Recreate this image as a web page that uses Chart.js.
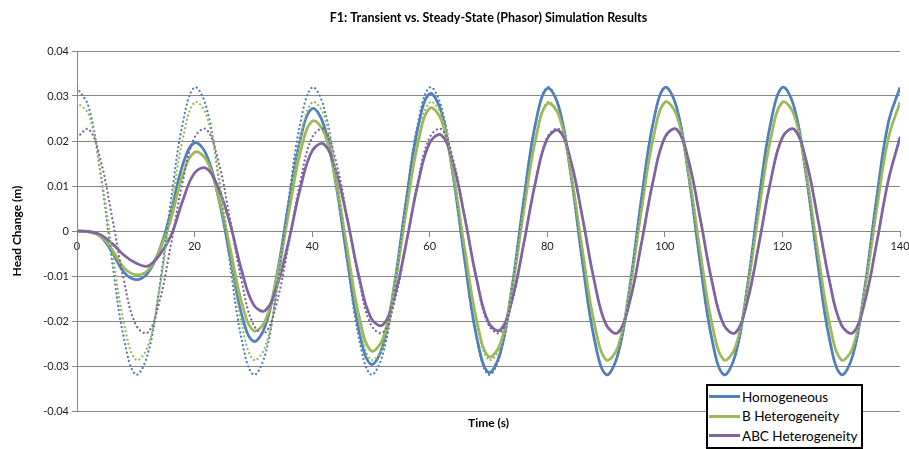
<!DOCTYPE html>
<html>
<head>
<meta charset="utf-8">
<script src="https://cdn.jsdelivr.net/npm/chart.js@4.4.0/dist/chart.umd.min.js"></script>
<style>
  body { margin: 0; background: #fff; }
  #wrap { position: relative; width: 909px; height: 449px; }
  #legend {
    position: absolute; left: 706px; top: 384px; width: 153px; height: 60px;
    border: 2px solid #000; background: #fff;
    font-family: Lato, sans-serif; font-size: 13.5px; color: #000;
    padding-top: 1px; box-sizing: content-box;
  }
  .row { display: flex; align-items: center; height: 19.5px; padding-left: 1px; }
  .swatch { width: 31px; height: 3px; margin-right: 2px; }
</style>
</head>
<body>
<div id="wrap">
  <canvas id="myChart" width="909" height="449"></canvas>
  <div id="legend"></div>
</div>
<script>
// time axis (s)
var timeS = [0, 2, 4, 6, 8, 10, 12, 14, 16, 18, 20, 22, 24, 26, 28, 30, 32, 34, 36, 38,
  40, 42, 44, 46, 48, 50, 52, 54, 56, 58, 60, 62, 64, 66, 68, 70, 72, 74, 76, 78,
  80, 82, 84, 86, 88, 90, 92, 94, 96, 98, 100, 102, 104, 106, 108, 110, 112, 114, 116, 118,
  120, 122, 124, 126, 128, 130, 132, 134, 136, 138, 140];

var seriesNames = ['Homogeneous', 'B Heterogeneity', 'ABC Heterogeneity'];
var seriesColors = ['#4F81BD', '#9BBB59', '#8064A2'];

// transient results (solid)
var homTransient = [0, -0.0002, -0.0012, -0.0048, -0.0092, -0.0108, -0.0094, -0.0043, 0.0043, 0.0148,
  0.0196, 0.0170, 0.0078, -0.0054, -0.0185, -0.0245, -0.0212, -0.0098, 0.0060, 0.0205,
  0.0272, 0.0235, 0.0108, -0.0065, -0.0223, -0.0296, -0.0256, -0.0118, 0.0067, 0.0230,
  0.0305, 0.0263, 0.0121, -0.0069, -0.0236, -0.0314, -0.0271, -0.0125, 0.0069, 0.0239,
  0.0317, 0.0274, 0.0127, -0.0070, -0.0240, -0.0319, -0.0275, -0.0127, 0.0070, 0.0240,
  0.0319, 0.0275, 0.0127, -0.0070, -0.0240, -0.0319, -0.0275, -0.0127, 0.0070, 0.0240,
  0.0319, 0.0275, 0.0127, -0.0070, -0.0240, -0.0319, -0.0275, -0.0127, 0.0070, 0.0240,
  0.0319];
var bTransient = [0, -0.0002, -0.0011, -0.0042, -0.0082, -0.0097, -0.0088, -0.0045, 0.0028, 0.0125,
  0.0175, 0.0158, 0.0080, -0.0035, -0.0158, -0.0221, -0.0200, -0.0102, 0.0039, 0.0175,
  0.0244, 0.0220, 0.0112, -0.0042, -0.0190, -0.0266, -0.0240, -0.0122, 0.0043, 0.0195,
  0.0273, 0.0246, 0.0125, -0.0044, -0.0199, -0.0279, -0.0251, -0.0128, 0.0045, 0.0203,
  0.0283, 0.0256, 0.0130, -0.0045, -0.0205, -0.0286, -0.0258, -0.0132, 0.0045, 0.0205,
  0.0286, 0.0258, 0.0132, -0.0045, -0.0205, -0.0286, -0.0258, -0.0132, 0.0045, 0.0205,
  0.0286, 0.0258, 0.0132, -0.0045, -0.0205, -0.0286, -0.0258, -0.0132, 0.0045, 0.0205,
  0.0286];
var abcTransient = [0, -0.0001, -0.0008, -0.0028, -0.0054, -0.0071, -0.0078, -0.0054, -0.0010, 0.0068,
  0.0129, 0.0139, 0.0097, 0.0018, -0.0087, -0.0163, -0.0177, -0.0123, -0.0023, 0.0095,
  0.0178, 0.0193, 0.0135, 0.0025, -0.0103, -0.0193, -0.0209, -0.0146, -0.0027, 0.0105,
  0.0196, 0.0213, 0.0149, 0.0027, -0.0108, -0.0203, -0.0220, -0.0153, -0.0028, 0.0109,
  0.0205, 0.0223, 0.0156, 0.0029, -0.0111, -0.0208, -0.0226, -0.0158, -0.0029, 0.0111,
  0.0208, 0.0226, 0.0158, 0.0029, -0.0111, -0.0208, -0.0226, -0.0158, -0.0029, 0.0111,
  0.0208, 0.0226, 0.0158, 0.0029, -0.0111, -0.0208, -0.0226, -0.0158, -0.0029, 0.0111,
  0.0208];

// steady-state (phasor) results (dotted)
var homPhasor = [0.0319, 0.0275, 0.0127, -0.0070, -0.0240, -0.0319, -0.0275, -0.0127, 0.0070, 0.0240,
  0.0319, 0.0275, 0.0127, -0.0070, -0.0240, -0.0319, -0.0275, -0.0127, 0.0070, 0.0240,
  0.0319, 0.0275, 0.0127, -0.0070, -0.0240, -0.0319, -0.0275, -0.0127, 0.0070, 0.0240,
  0.0319, 0.0275, 0.0127, -0.0070, -0.0240, -0.0319, -0.0275, -0.0127, 0.0070, 0.0240,
  0.0319, 0.0275, 0.0127, -0.0070, -0.0240, -0.0319, -0.0275, -0.0127, 0.0070, 0.0240,
  0.0319, 0.0275, 0.0127, -0.0070, -0.0240, -0.0319, -0.0275, -0.0127, 0.0070, 0.0240,
  0.0319, 0.0275, 0.0127, -0.0070, -0.0240, -0.0319, -0.0275, -0.0127, 0.0070, 0.0240,
  0.0319];
var bPhasor = [0.0286, 0.0258, 0.0132, -0.0045, -0.0205, -0.0286, -0.0258, -0.0132, 0.0045, 0.0205,
  0.0286, 0.0258, 0.0132, -0.0045, -0.0205, -0.0286, -0.0258, -0.0132, 0.0045, 0.0205,
  0.0286, 0.0258, 0.0132, -0.0045, -0.0205, -0.0286, -0.0258, -0.0132, 0.0045, 0.0205,
  0.0286, 0.0258, 0.0132, -0.0045, -0.0205, -0.0286, -0.0258, -0.0132, 0.0045, 0.0205,
  0.0286, 0.0258, 0.0132, -0.0045, -0.0205, -0.0286, -0.0258, -0.0132, 0.0045, 0.0205,
  0.0286, 0.0258, 0.0132, -0.0045, -0.0205, -0.0286, -0.0258, -0.0132, 0.0045, 0.0205,
  0.0286, 0.0258, 0.0132, -0.0045, -0.0205, -0.0286, -0.0258, -0.0132, 0.0045, 0.0205,
  0.0286];
var abcPhasor = [0.0208, 0.0226, 0.0158, 0.0029, -0.0111, -0.0208, -0.0226, -0.0158, -0.0029, 0.0111,
  0.0208, 0.0226, 0.0158, 0.0029, -0.0111, -0.0208, -0.0226, -0.0158, -0.0029, 0.0111,
  0.0208, 0.0226, 0.0158, 0.0029, -0.0111, -0.0208, -0.0226, -0.0158, -0.0029, 0.0111,
  0.0208, 0.0226, 0.0158, 0.0029, -0.0111, -0.0208, -0.0226, -0.0158, -0.0029, 0.0111,
  0.0208, 0.0226, 0.0158, 0.0029, -0.0111, -0.0208, -0.0226, -0.0158, -0.0029, 0.0111,
  0.0208, 0.0226, 0.0158, 0.0029, -0.0111, -0.0208, -0.0226, -0.0158, -0.0029, 0.0111,
  0.0208, 0.0226, 0.0158, 0.0029, -0.0111, -0.0208, -0.0226, -0.0158, -0.0029, 0.0111,
  0.0208];

var xTickValues = [0, 20, 40, 60, 80, 100, 120, 140];
var yTickValues = [-0.04, -0.03, -0.02, -0.01, 0, 0.01, 0.02, 0.03, 0.04];
var yTickLabels = ['-0.04', '-0.03', '-0.02', '-0.01', '0', '0.01', '0.02', '0.03', '0.04'];

function toPoints(values) {
  return timeS.map(function (t, i) { return { x: t, y: values[i] }; });
}

function solid(i, values) {
  return {
    label: seriesNames[i],
    data: toPoints(values),
    borderColor: seriesColors[i],
    borderWidth: 2.75,
    pointRadius: 0,
    tension: 0.4,
    order: 6 - i
  };
}

function dotted(i, values) {
  return {
    label: seriesNames[i] + ' (phasor)',
    data: toPoints(values),
    borderColor: seriesColors[i],
    borderWidth: 2.3,
    borderDash: [0.01, 4.3],
    borderCapStyle: 'round',
    pointRadius: 0,
    tension: 0.4,
    order: 3 - i
  };
}

var gridColor = '#868686';
Chart.defaults.font.family = 'Lato, sans-serif';
Chart.defaults.color = '#333';

const ctx = document.getElementById('myChart');
new Chart(ctx, {
  type: 'line',
  data: {
    datasets: [
      solid(0, homTransient), solid(1, bTransient), solid(2, abcTransient),
      dotted(0, homPhasor), dotted(1, bPhasor), dotted(2, abcPhasor)
    ]
  },
  options: {
    responsive: false,
    animation: false,
    devicePixelRatio: 1,
    layout: { padding: { left: 0, right: 9, top: 0, bottom: 0 } },
    plugins: {
      legend: { display: false },
      tooltip: { enabled: false },
      title: {
        display: true,
        fullSize: false,
        text: 'F1: Transient vs. Steady-State (Phasor) Simulation Results',
        color: '#000',
        font: { size: 12.5, weight: 'bold' },
        padding: { top: 10, bottom: 26 }
      },
      subtitle: {
        display: true,
        fullSize: false,
        position: 'bottom',
        text: 'Time (s)',
        color: '#000',
        font: { size: 12, weight: 'bold' },
        padding: { top: 4.8, bottom: 18.8 }
      }
    },
    scales: {
      x: {
        type: 'linear',
        min: 0,
        max: 140,
        position: { y: 0 },
        grid: { drawOnChartArea: false, drawTicks: true, tickLength: 5, color: gridColor },
        border: { color: gridColor },
        ticks: { padding: 4, font: { size: 11 }, color: '#222', maxRotation: 0, autoSkip: false },
        afterBuildTicks: function (s) { s.ticks = xTickValues.map(function (v) { return { value: v }; }); },
        afterFit: function (s) { s.height = 0; s.paddingLeft = 0; s.paddingRight = 0; }
      },
      y: {
        type: 'linear',
        min: -0.04,
        max: 0.04,
        grid: { color: gridColor, tickLength: 5 },
        border: { color: gridColor },
        ticks: {
          padding: 3, font: { size: 11 }, color: '#222',
          callback: function (v, i) { return yTickLabels[i]; }
        },
        afterBuildTicks: function (s) { s.ticks = yTickValues.map(function (v) { return { value: v }; }); },
        title: {
          display: true,
          text: 'Head Change (m)',
          color: '#000',
          font: { size: 12, weight: 'bold' },
          padding: { top: 10, bottom: 0 }
        },
        afterFit: function (s) { s.width = 77; }
      }
    }
  }
});

// legend box (solid series only)
var legend = document.getElementById('legend');
seriesNames.forEach(function (name, i) {
  var row = document.createElement('div');
  row.className = 'row';
  var sw = document.createElement('span');
  sw.className = 'swatch';
  sw.style.background = seriesColors[i];
  var tx = document.createElement('span');
  tx.textContent = name;
  row.appendChild(sw);
  row.appendChild(tx);
  legend.appendChild(row);
});
</script>
</body>
</html>
